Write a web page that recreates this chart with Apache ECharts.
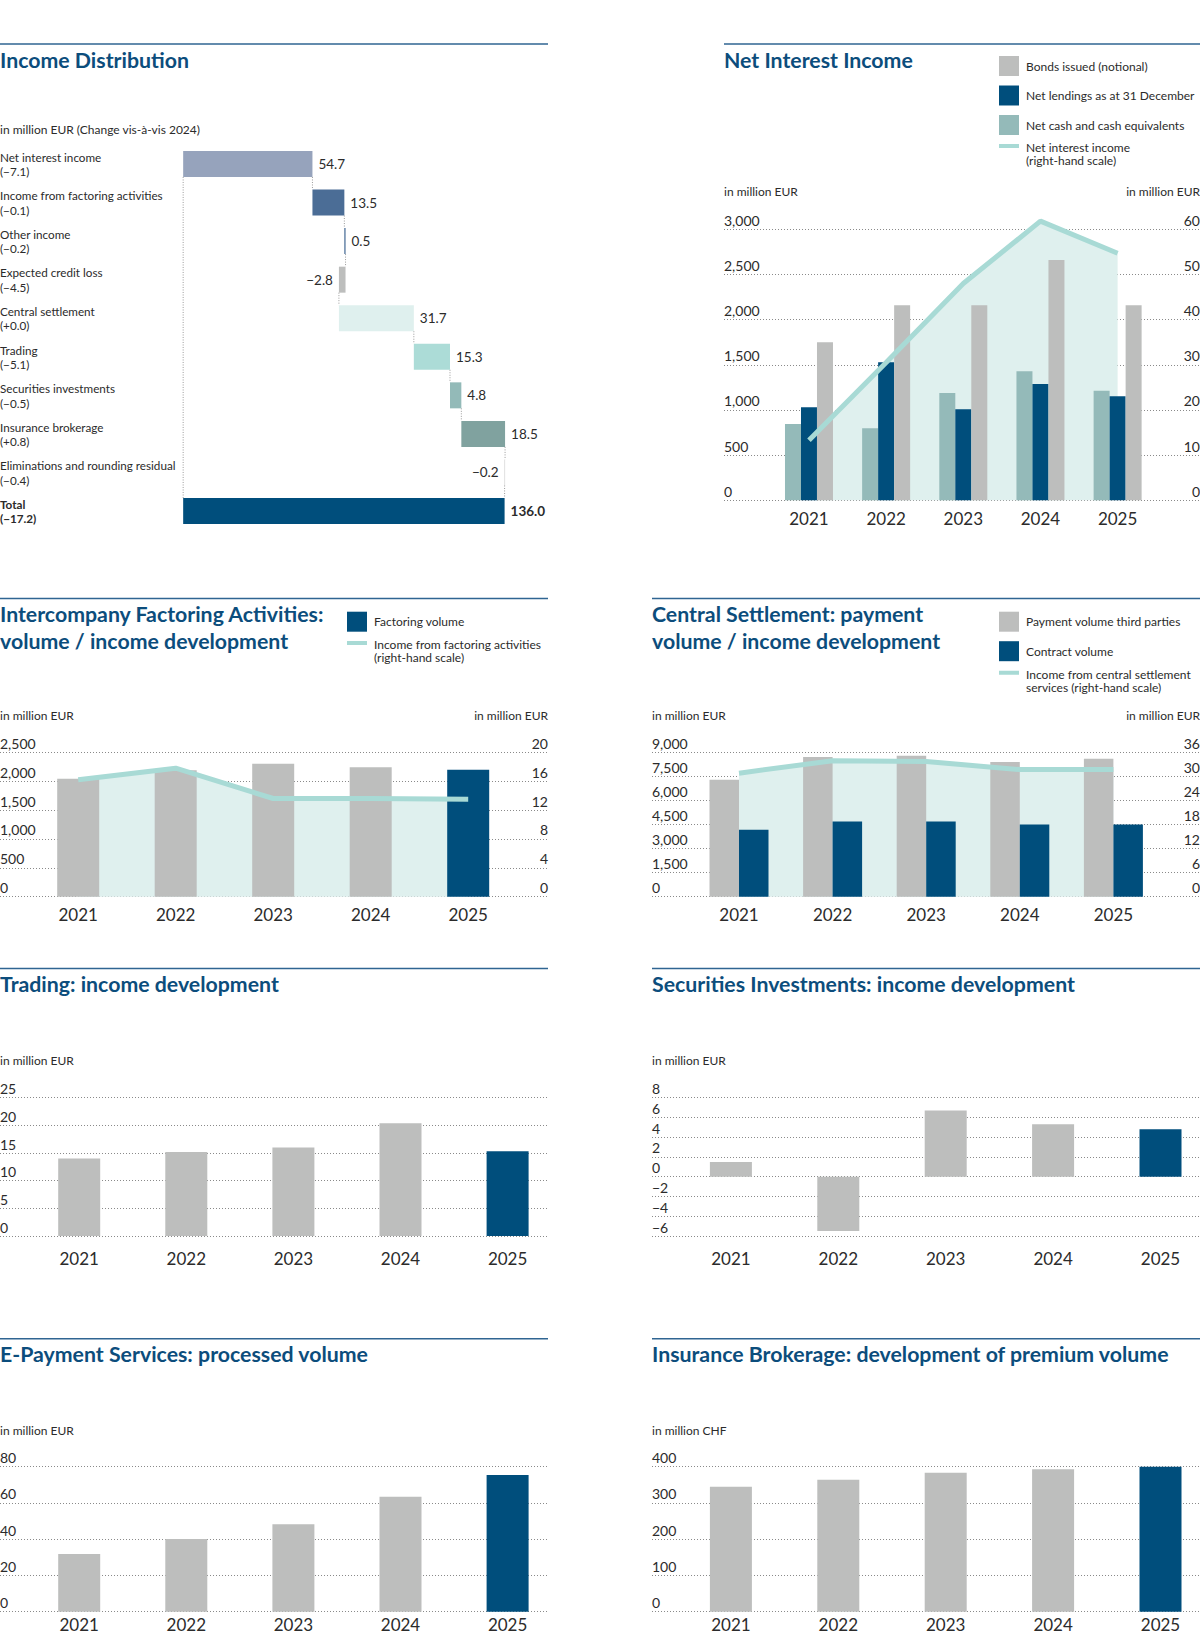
<!DOCTYPE html>
<html><head><meta charset="utf-8">
<script src="https://cdn.jsdelivr.net/npm/echarts@6/dist/echarts.min.js"></script>
<style>html,body{margin:0;padding:0;background:#fff}#c{width:1200px;height:1635px}</style>
</head><body><div id="c"></div>
<script>
// ---------- data ----------
const years = ['2021', '2022', '2023', '2024', '2025'];

const incomeCategories = ['Net interest income', 'Income from factoring activities', 'Other income', 'Expected credit loss', 'Central settlement', 'Trading', 'Securities investments', 'Insurance brokerage', 'Eliminations and rounding residual', 'Total'];
const incomeChanges = ['\u22127.1', '\u22120.1', '\u22120.2', '\u22124.5', '+0.0', '\u22125.1', '\u22120.5', '+0.8', '\u22120.4', '\u221217.2'];
const incomeValues = [54.7, 13.5, 0.5, -2.8, 31.7, 15.3, 4.8, 18.5, -0.2, 136.0];

const niiNetCash = [845, 797, 1188, 1429, 1211];
const niiNetLendings = [1030, 1529, 1008, 1288, 1152];
const niiBonds = [1750, 2160, 2160, 2660, 2160];
const niiIncome = [13.3, 30.5, 48.0, 61.8, 54.7];

const factoringVolume = [2040, 2190, 2300, 2240, 2200];
const factoringIncome = [16.2, 17.8, 13.6, 13.6, 13.5];

const settlementPayment = [7290, 8710, 8790, 8400, 8600];
const settlementContract = [4170, 4690, 4690, 4500, 4500];
const settlementIncome = [30.8, 33.9, 33.7, 31.7, 31.7];

const tradingIncome = [14.0, 15.2, 16.0, 20.4, 15.3];
const securitiesIncome = [1.5, -5.5, 6.7, 5.3, 4.8];
const epaymentVolume = [31.8, 40.1, 48.2, 63.4, 75.4];
const insurancePremium = [345, 364, 383, 393, 402];

// ---------- style ----------
const FONT = 'Lato, "Noto Sans", sans-serif';
const BLUE = '#004e7c', GRAY = '#bdbebd', TEAL = '#94bab9', LINEC = '#a8dad5', AREA = '#dff0ee';
const TITLE = '#0c4d7c', TXT = '#2b2b2b', RULE = '#2f6592';
const LINE_ICON = 'path://M0,0H20V4H0Z M19.9,19.9H20V20H19.9Z';

const grids = [], xAxes = [], yAxes = [], series = [], legends = [], graphics = [];
function addGrid(g) { grids.push(Object.assign({ containLabel: false, outerBoundsMode: 'none' }, g)); return grids.length - 1; }
function fmtNum(v) { return (v < 0 ? '\u2212' : '') + Math.abs(v).toLocaleString('en-US'); }
function labelAxis(gi, pos, s, split) {
  return {
    gridIndex: gi, type: 'value', position: pos, min: s.min, max: s.max, interval: s.interval,
    axisLine: { show: false }, axisTick: { show: false },
    splitLine: { show: split, lineStyle: { type: [1, 2], color: '#8a8a8a', width: 1 } },
    axisLabel: { inside: true, margin: 0, verticalAlign: 'bottom', padding: [0, 0, 2, 0], fontSize: 14, color: TXT, fontFamily: FONT, formatter: fmtNum }
  };
}
function vChart(o) {
  const h = o.base - o.top;
  const gA = addGrid({ left: o.x0, top: o.top, width: o.w, height: h });
  xAxes.push({ gridIndex: gA, type: 'value', show: false });
  yAxes.push(labelAxis(gA, 'left', o.left, true));
  if (o.right) yAxes.push(labelAxis(gA, 'right', o.right, false));
  const gB = addGrid({ left: o.bandLeft, top: o.top, width: o.bandWidth, height: h });
  const xB = xAxes.length;
  xAxes.push({ gridIndex: gB, type: 'category', data: years, axisLine: { show: false, onZero: false }, axisTick: { show: false },
    axisLabel: { margin: o.xMargin, fontSize: 17, lineHeight: 17, color: TXT, fontFamily: FONT } });
  const yBL = yAxes.length;
  yAxes.push({ gridIndex: gB, type: 'value', min: o.left.min, max: o.left.max, show: false });
  let yBR;
  if (o.right) { yBR = yAxes.length; yAxes.push({ gridIndex: gB, type: 'value', position: 'right', min: o.right.min, max: o.right.max, show: false }); }
  return { xB, yBL, yBR };
}
function highlightLast(arr) {
  return arr.map((v, i) => ({ value: v, itemStyle: { color: i === arr.length - 1 ? BLUE : GRAY } }));
}
function areaLine(ax, data) {
  series.push({ type: 'line', xAxisIndex: ax.xB, yAxisIndex: ax.yBR, data: data, symbol: 'none', silent: true, z: 1, clip: false,
    lineStyle: { width: 0 }, areaStyle: { color: AREA, opacity: 1 } });
}
function incomeLine(ax, name, data) {
  series.push({ type: 'line', name: name, xAxisIndex: ax.xB, yAxisIndex: ax.yBR, data: data, symbol: 'none', showSymbol: false, z: 5, clip: false,
    color: LINEC, itemStyle: { color: LINEC }, lineStyle: { width: 5, color: LINEC, cap: 'butt' } });
}
function squareLegend(left, top, names, gap) {
  legends.push({ orient: 'vertical', left: left, top: top, padding: 0, itemWidth: 20, itemHeight: 20, itemGap: gap, icon: 'rect',
    selectedMode: false, data: names, textStyle: { fontSize: 12, color: TXT, fontFamily: FONT, padding: [0, 0, 0, 2] } });
}
function lineLegend(left, top, name) {
  legends.push({ orient: 'vertical', left: left, top: top, padding: 0, itemWidth: 20, itemHeight: 20, icon: LINE_ICON,
    selectedMode: false, data: [name], textStyle: { fontSize: 12, lineHeight: 13, color: TXT, fontFamily: FONT, padding: [0, 0, 0, 2] } });
}
function text(x, y, str, opts) {
  graphics.push({ type: 'text', x: x, y: y, silent: true, style: Object.assign({ text: str, fontSize: 12, fontFamily: FONT, fill: TXT, verticalAlign: 'middle', align: 'left' }, opts || {}) });
}
function title(x, y, str) { text(x, y, str, { fontSize: 21.3, fontWeight: 'bold', fill: TITLE, lineHeight: 27 }); }
function rule(x1, x2, y) { graphics.push({ type: 'line', silent: true, shape: { x1: x1, y1: y, x2: x2, y2: y }, style: { stroke: RULE, lineWidth: 1.5 } }); }

// ---------- Income distribution (waterfall) ----------
rule(0, 548, 44); title(0, 60, 'Income Distribution');
text(0, 129, 'in million EUR (Change vis-\u00e0-vis 2024)');
// grid spans from x=0; value 0 sits at x≈183 because the axis starts below zero (label room)
const gW = addGrid({ left: 0, top: 144.7, width: 549.5, height: 385.6 });
const xW = xAxes.length; xAxes.push({ gridIndex: gW, type: 'value', min: -77.5, max: 155, show: false });
const yW = yAxes.length;
yAxes.push({ gridIndex: gW, type: 'category', inverse: true,
  data: incomeCategories.map((c, i) => ({ value: c + '\n(' + incomeChanges[i] + ')', textStyle: i === incomeCategories.length - 1 ? { fontWeight: 'bold' } : {} })),
  axisLine: { show: false, onZero: false }, axisTick: { show: false },
  axisLabel: { inside: true, margin: 0, align: 'left', fontSize: 11.7, lineHeight: 14.5, color: TXT, fontFamily: FONT } });
const wColors = ['#96a3bc', '#4b6d96', '#3d6390', '#bdbebd', '#dff0ee', '#acdcd7', '#93bab8', '#80a29f', '#bdbebd', BLUE];
const wBase = [], wBar = [], wEnds = [];
let cum = 0;
incomeValues.forEach((v, i) => {
  const last = i === incomeValues.length - 1;
  if (last) { wBase.push(0); wEnds.push(v); }
  else { const next = cum + v; wBase.push(Math.min(cum, next)); cum = next; wEnds.push(cum); }
  wBar.push({ value: Math.abs(v), itemStyle: { color: wColors[i] },
    label: { position: v < 0 ? 'left' : 'right', fontWeight: last ? 'bold' : 'normal' } });
});
series.push({ type: 'bar', xAxisIndex: xW, yAxisIndex: yW, stack: 'w', data: wBase, barWidth: 26, silent: true, itemStyle: { color: 'rgba(0,0,0,0)' } });
series.push({ type: 'bar', xAxisIndex: xW, yAxisIndex: yW, stack: 'w', data: wBar, barWidth: 26, silent: true,
  label: { show: true, distance: 6, fontSize: 13.5, color: TXT, fontFamily: FONT,
    formatter: p => { const v = incomeValues[p.dataIndex]; return (v < 0 ? '\u2212' : '') + Math.abs(v).toFixed(1); } } });
const connectors = [[0, 0, incomeValues.length - 1]];
for (let i = 0; i < incomeValues.length - 1; i++) connectors.push([wEnds[i], i, i + 1]);
series.push({ type: 'custom', xAxisIndex: xW, yAxisIndex: yW, silent: true, z: 1, data: connectors, encode: { x: 0, y: 1 },
  renderItem: (params, api) => {
    const x = api.value(0); const a = api.coord([x, api.value(1)]); const b = api.coord([x, api.value(2)]);
    return { type: 'line', shape: { x1: a[0], y1: a[1] + 13, x2: b[0], y2: b[1] - 13 }, style: { stroke: '#9a9a9a', lineWidth: 1, lineDash: [1, 1.5] } };
  } });

// ---------- Net interest income ----------
rule(724, 1200, 44); title(724, 60, 'Net Interest Income');
text(724, 191, 'in million EUR'); text(1200, 191, 'in million EUR', { align: 'right' });
const aN = vChart({ x0: 724, w: 476, top: 229.3, base: 500.2, bandLeft: 770.4, bandWidth: 385.8, xMargin: 10,
  left: { min: 0, max: 3000, interval: 500 }, right: { min: 0, max: 60, interval: 10 } });
areaLine(aN, niiIncome);
series.push({ type: 'bar', name: 'Net cash and cash equivalents', xAxisIndex: aN.xB, yAxisIndex: aN.yBL, data: niiNetCash, barWidth: 16, barGap: '0%', itemStyle: { color: TEAL }, z: 2 });
series.push({ type: 'bar', name: 'Net lendings as at 31 December', xAxisIndex: aN.xB, yAxisIndex: aN.yBL, data: niiNetLendings, barWidth: 16, barGap: '0%', itemStyle: { color: BLUE }, z: 2 });
series.push({ type: 'bar', name: 'Bonds issued (notional)', xAxisIndex: aN.xB, yAxisIndex: aN.yBL, data: niiBonds, barWidth: 16, barGap: '0%', itemStyle: { color: GRAY }, z: 2 });
incomeLine(aN, 'Net interest income\n(right-hand scale)', niiIncome);
squareLegend(999, 56, ['Bonds issued (notional)', 'Net lendings as at 31 December', 'Net cash and cash equivalents'], 9.5);
lineLegend(999, 141, 'Net interest income\n(right-hand scale)');

// ---------- Intercompany factoring ----------
rule(0, 548, 598.5); title(0, 627.5, 'Intercompany Factoring Activities:\nvolume / income development');
text(0, 715, 'in million EUR'); text(548, 715, 'in million EUR', { align: 'right' });
const aF = vChart({ x0: 0, w: 548, top: 752.3, base: 896.7, bandLeft: 29.45, bandWidth: 487.5, xMargin: 9,
  left: { min: 0, max: 2500, interval: 500 }, right: { min: 0, max: 20, interval: 4 } });
areaLine(aF, factoringIncome);
series.push({ type: 'bar', name: 'Factoring volume', xAxisIndex: aF.xB, yAxisIndex: aF.yBL, data: highlightLast(factoringVolume), barWidth: 42, itemStyle: { color: BLUE }, z: 2 });
incomeLine(aF, 'Income from factoring activities\n(right-hand scale)', factoringIncome);
squareLegend(347, 611.7, ['Factoring volume'], 10);
lineLegend(347, 638, 'Income from factoring activities\n(right-hand scale)');

// ---------- Central settlement ----------
rule(652, 1200, 598.5); title(652, 627.5, 'Central Settlement: payment\nvolume / income development');
text(652, 715, 'in million EUR'); text(1200, 715, 'in million EUR', { align: 'right' });
const aC = vChart({ x0: 652, w: 548, top: 752.3, base: 896.7, bandLeft: 692.2, bandWidth: 468, xMargin: 9,
  left: { min: 0, max: 9000, interval: 1500 }, right: { min: 0, max: 36, interval: 6 } });
areaLine(aC, settlementIncome);
series.push({ type: 'bar', name: 'Payment volume third parties', xAxisIndex: aC.xB, yAxisIndex: aC.yBL, data: settlementPayment, barWidth: 29.5, barGap: '0%', itemStyle: { color: GRAY }, z: 2 });
series.push({ type: 'bar', name: 'Contract volume', xAxisIndex: aC.xB, yAxisIndex: aC.yBL, data: settlementContract, barWidth: 29.5, barGap: '0%', itemStyle: { color: BLUE }, z: 2 });
incomeLine(aC, 'Income from central settlement\nservices (right-hand scale)', settlementIncome);
squareLegend(999, 611.7, ['Payment volume third parties', 'Contract volume'], 9.5);
lineLegend(999, 667.7, 'Income from central settlement\nservices (right-hand scale)');

// ---------- Trading ----------
rule(0, 548, 968.6); title(0, 984, 'Trading: income development');
text(0, 1060, 'in million EUR');
const aT = vChart({ x0: 0, w: 548, top: 1097.7, base: 1236, bandLeft: 25.65, bandWidth: 535.5, xMargin: 14,
  left: { min: 0, max: 25, interval: 5 } });
series.push({ type: 'bar', name: 'Trading income', xAxisIndex: aT.xB, yAxisIndex: aT.yBL, data: highlightLast(tradingIncome), barWidth: 42 });

// ---------- Securities ----------
rule(652, 1200, 968.6); title(652, 984, 'Securities Investments: income development');
text(652, 1060, 'in million EUR');
const aS = vChart({ x0: 652, w: 548, top: 1097.7, base: 1236, bandLeft: 677.2, bandWidth: 537, xMargin: 14,
  left: { min: -6, max: 8, interval: 2 } });
series.push({ type: 'bar', name: 'Securities income', xAxisIndex: aS.xB, yAxisIndex: aS.yBL, data: highlightLast(securitiesIncome), barWidth: 42 });

// ---------- E-Payment ----------
rule(0, 548, 1338.7); title(0, 1354.3, 'E-Payment Services: processed volume');
text(0, 1430, 'in million EUR');
const aE = vChart({ x0: 0, w: 548, top: 1466.7, base: 1611.7, bandLeft: 25.65, bandWidth: 535.5, xMargin: 4,
  left: { min: 0, max: 80, interval: 20 } });
series.push({ type: 'bar', name: 'Processed volume', xAxisIndex: aE.xB, yAxisIndex: aE.yBL, data: highlightLast(epaymentVolume), barWidth: 42 });

// ---------- Insurance ----------
rule(652, 1200, 1338.7); title(652, 1354.3, 'Insurance Brokerage: development of premium volume');
text(652, 1430, 'in million CHF');
const aI = vChart({ x0: 652, w: 548, top: 1466.7, base: 1611.7, bandLeft: 677.2, bandWidth: 537, xMargin: 4,
  left: { min: 0, max: 400, interval: 100 } });
series.push({ type: 'bar', name: 'Premium volume', xAxisIndex: aI.xB, yAxisIndex: aI.yBL, data: highlightLast(insurancePremium), barWidth: 42 });

const chart = echarts.init(document.getElementById('c'), null, { renderer: 'svg', width: 1200, height: 1635 });
chart.setOption({
  backgroundColor: '#fff', animation: false, textStyle: { fontFamily: FONT },
  grid: grids, xAxis: xAxes, yAxis: yAxes, series: series, legend: legends, graphic: graphics
});
</script></body></html>
